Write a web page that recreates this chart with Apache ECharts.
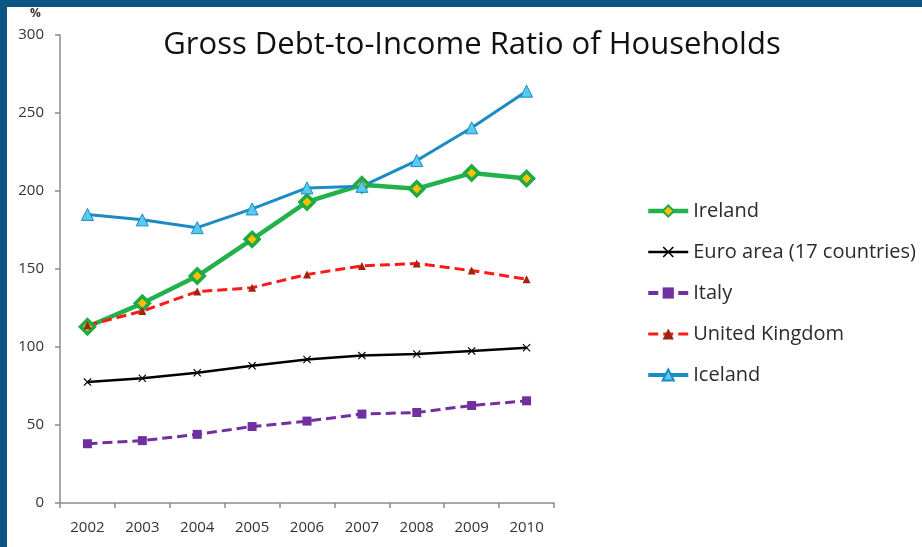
<!DOCTYPE html>
<html>
<head>
<meta charset="utf-8">
<script src="https://cdn.jsdelivr.net/npm/echarts@6/dist/echarts.min.js"></script>
<style>
  html, body { margin: 0; padding: 0; }
  body { width: 922px; height: 547px; background: #0d5683; position: relative; overflow: hidden; }
  #chart { position: absolute; left: 7px; top: 7px; width: 915px; height: 540px; background: #ffffff; }
</style>
</head>
<body>
<div id="chart"></div>
<script>
// Household gross debt as % of gross disposable income
const years = ['2002', '2003', '2004', '2005', '2006', '2007', '2008', '2009', '2010'];
const ireland = [113, 128, 145.5, 169, 193, 204, 201.5, 211.5, 208];
const euroArea = [77.5, 80, 83.5, 88, 92, 94.5, 95.5, 97.5, 99.5];
const italy = [38, 40, 44, 49, 52.5, 57, 58, 62.5, 65.5];
const unitedKingdom = [114, 123, 135.5, 138, 146.5, 152, 153.5, 149, 143.5];
const iceland = [185, 181.5, 176.5, 188.5, 202, 203, 219.5, 240.5, 264];

const fontFamily = '"Open Sans", "Noto Sans", sans-serif';
const crossMark = 'path://M1 0 L5 4 L9 0 L10 1 L6 5 L10 9 L9 10 L5 6 L1 10 L0 9 L4 5 L0 1 Z';

const chart = echarts.init(document.getElementById('chart'), null, { renderer: 'canvas' });

chart.setOption({
  animation: false,
  backgroundColor: '#ffffff',
  title: {
    text: 'Gross Debt-to-Income Ratio of Households',
    left: 460,
    top: 18,
    textAlign: 'center',
    textStyle: { fontFamily: fontFamily, fontSize: 31, fontWeight: 'normal', color: '#111111' }
  },
  graphic: [{
    type: 'text',
    left: 23,
    top: 1,
    style: { text: '%', font: 'bold 12px ' + fontFamily, fill: '#333333' }
  }],
  legend: {
    orient: 'vertical',
    left: 634,
    top: 189,
    itemWidth: 40,
    itemHeight: 14,
    itemGap: 21,
    textStyle: { fontFamily: fontFamily, fontSize: 20, color: '#2b2b2b' },
    data: [
      { name: 'Ireland', lineStyle: { width: 4.5 } },
      { name: 'Euro area (17 countries)', lineStyle: { width: 2.5 } },
      { name: 'Italy', lineStyle: { width: 4 } },
      { name: 'United Kingdom', lineStyle: { width: 3 } },
      { name: 'Iceland', lineStyle: { width: 4 } }
    ]
  },
  grid: { left: 53, top: 28, width: 494, height: 468, containLabel: false },
  xAxis: {
    type: 'category',
    data: years,
    boundaryGap: true,
    axisLine: { lineStyle: { color: '#8c8c8c', width: 1.5 } },
    axisTick: { show: true, length: 5, alignWithLabel: false, lineStyle: { color: '#8c8c8c', width: 1.5 } },
    axisLabel: { margin: 17, fontFamily: fontFamily, fontSize: 15, color: '#333333' },
    splitLine: { show: false }
  },
  yAxis: {
    type: 'value',
    min: 0,
    max: 300,
    interval: 50,
    axisLine: { show: true, lineStyle: { color: '#8c8c8c', width: 1.5 } },
    axisTick: { show: true, length: 5, lineStyle: { color: '#8c8c8c', width: 1.5 } },
    axisLabel: { margin: 16, fontFamily: fontFamily, fontSize: 15, color: '#333333' },
    splitLine: { show: false }
  },
  series: [
    {
      name: 'Ireland',
      type: 'line',
      data: ireland,
      symbol: 'diamond',
      symbolSize: 14,
      lineStyle: { color: '#22b14c', width: 4.5 },
      itemStyle: { color: '#ffc000', borderColor: '#1eaa44', borderWidth: 3.5 }
    },
    {
      name: 'Euro area (17 countries)',
      type: 'line',
      data: euroArea,
      symbol: crossMark,
      symbolSize: 8,
      lineStyle: { color: '#000000', width: 2.5 },
      itemStyle: { color: '#000000' }
    },
    {
      name: 'Italy',
      type: 'line',
      data: italy,
      symbol: 'rect',
      symbolSize: 9,
      lineStyle: { color: '#7030a0', width: 3, type: [10, 5] },
      itemStyle: { color: '#7030a0' }
    },
    {
      name: 'United Kingdom',
      type: 'line',
      data: unitedKingdom,
      symbol: 'triangle',
      symbolSize: 8,
      lineStyle: { color: '#ff1a1a', width: 3, type: [10, 5] },
      itemStyle: { color: '#9e2410' }
    },
    {
      name: 'Iceland',
      type: 'line',
      data: iceland,
      symbol: 'triangle',
      symbolSize: 12,
      lineStyle: { color: '#1a8bc4', width: 3 },
      itemStyle: { color: '#58c9ef', borderColor: '#1a8bc4', borderWidth: 1 }
    }
  ]
});
</script>
</body>
</html>
